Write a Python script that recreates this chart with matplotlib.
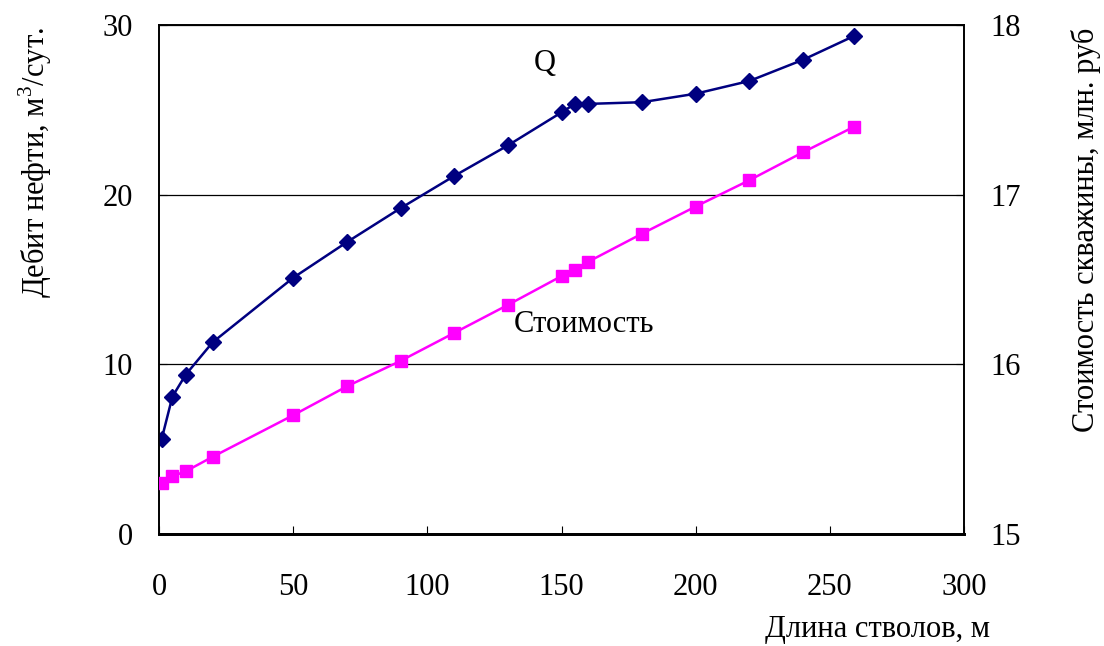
import matplotlib
matplotlib.use("Agg")
import matplotlib.pyplot as plt

length_m = [1, 5, 10, 20, 50, 70, 90, 110, 130, 150, 155, 160, 180, 200, 220, 240, 259]
debit_q = [5.6, 8.1, 9.4, 11.3, 15.1, 17.2, 19.2, 21.1, 22.9, 24.85, 25.35, 25.35,
           25.45, 25.95, 26.7, 27.95, 29.35]
cost = [15.30, 15.34, 15.37, 15.455, 15.70, 15.87, 16.02, 16.185, 16.35, 16.52,
        16.555, 16.605, 16.77, 16.93, 17.085, 17.25, 17.40]

x_ticks = [0, 50, 100, 150, 200, 250, 300]
left_ticks = [0, 10, 20, 30]
right_ticks = [15, 16, 17, 18]

plt.rcParams['font.family'] = ['Liberation Serif', 'DejaVu Serif']
plt.rcParams['mathtext.fontset'] = 'custom'
plt.rcParams['mathtext.rm'] = 'Liberation Serif'

fig = plt.figure(figsize=(11.04, 6.46), dpi=100)
ax = fig.add_axes([159/1104, 1-534/646, (964-159)/1104, (534-25)/646])
ax2 = ax.twinx()

ax.set_xlim(0, 300)
ax.set_ylim(0, 30)
ax2.set_ylim(15, 18)
ax.set_xticks(x_ticks)
ax.set_yticks(left_ticks)
ax2.set_yticks(right_ticks)

ax.yaxis.grid(True, color='black', linewidth=0.9)
ax.set_axisbelow(True)

ax.plot(length_m, debit_q, color='#000080', linewidth=1.8, marker='D',
        markersize=8.5, zorder=3)
ax2.plot(length_m, cost, color='#FF00FF', linewidth=1.8, marker='s',
         markersize=8.5, zorder=3)

for a in (ax, ax2):
    for s in a.spines.values():
        s.set_linewidth(1.2)
    a.spines['bottom'].set_linewidth(2.0)
ax.tick_params(axis='x', direction='in', length=6, labelsize=22, pad=28)
ax.tick_params(axis='y', direction='in', length=6, labelsize=22, pad=19)
ax2.tick_params(axis='y', direction='in', length=6, labelsize=22, pad=19)

fig.text(35/1104, 1-163/646, 'Дебит нефти, м$^3$/сут.', rotation=90,
         ha='center', va='center', fontsize=22)
fig.text(1086/1104, 1-230/646, 'Стоимость скважины, млн. руб', rotation=90,
         ha='center', va='center', fontsize=22)
fig.text(990/1104, 1-630/646, 'Длина стволов, м', ha='right', va='center',
         fontsize=22)
fig.text(545/1104, 1-63/646, 'Q', ha='center', va='center', fontsize=22)
fig.text(514/1104, 1-325/646, 'Стоимость', ha='left', va='center', fontsize=22)

fig.savefig('out.png', dpi=100)
